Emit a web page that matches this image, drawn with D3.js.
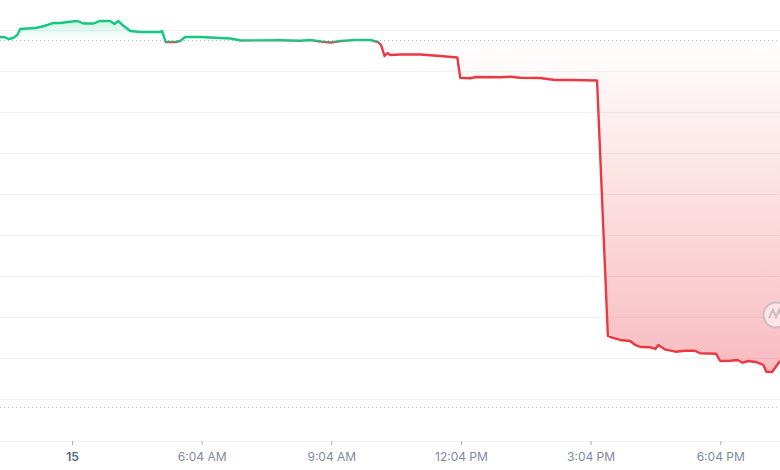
<!DOCTYPE html>
<html>
<head>
<meta charset="utf-8">
<script src="https://cdn.jsdelivr.net/npm/d3@7"></script>
<style>
  html, body { margin: 0; padding: 0; background: #fff; }
  svg { display: block; font-family: Inter, "Noto Sans", sans-serif; }
</style>
</head>
<body>
<div id="chart"></div>
<script>
// price series (time of day, price)
var times = ["01:24","01:29","01:36","01:42","01:48","01:52","02:02","02:13","02:20","02:30",
  "02:38","02:48","02:58","03:11","03:20","03:34","03:43","03:57","04:03","04:08",
  "04:14","04:25","04:39","05:07","05:09","05:14","05:27","05:34","05:41","06:02",
  "06:30","06:44","06:51","06:58","07:53","08:21","08:35","08:49","09:03","09:17",
  "09:37","09:58","10:09","10:13","10:18","10:22","10:26","10:40","11:08","11:35",
  "11:59","12:03","12:17","12:25","12:59","13:13","13:26","13:54","14:04","14:15",
  "14:36","15:13","15:28","15:34","15:45","15:59","16:06","16:13","16:27","16:34",
  "16:38","16:48","17:02","17:15","17:29","17:36","17:58","18:04","18:18","18:28",
  "18:35","18:43","18:55","19:04","19:08","19:16","19:22","19:27"];
var prices = [0.99810,0.99818,0.99769,0.99793,0.99866,1.00012,1.00025,1.00037,1.00061,1.00110,
  1.00158,1.00158,1.00183,1.00207,1.00146,1.00146,1.00207,1.00207,1.00134,1.00207,
  1.00110,0.99964,0.99939,0.99939,0.99964,0.99696,0.99696,0.99720,0.99818,0.99818,
  0.99793,0.99781,0.99757,0.99733,0.99737,0.99728,0.99745,0.99708,0.99684,0.99720,
  0.99745,0.99745,0.99696,0.99623,0.99355,0.99428,0.99380,0.99392,0.99392,0.99355,
  0.99319,0.98827,0.98813,0.98844,0.98837,0.98852,0.98827,0.98820,0.98796,0.98771,
  0.98771,0.98759,0.92543,0.92501,0.92446,0.92421,0.92324,0.92275,0.92268,0.92227,
  0.92324,0.92210,0.92161,0.92185,0.92185,0.92122,0.92112,0.91934,0.91942,0.91959,
  0.91893,0.91934,0.91903,0.91837,0.91674,0.91668,0.91814,0.91936];

var openPrice = 0.99745;   // dotted reference line
var floorPrice = 0.90815;  // lower dotted line
var gridValues = [0.91,0.92,0.93,0.94,0.95,0.96,0.97,0.98,0.99,1.00];
var tickTimes = ["03:04","06:04","09:04","12:04","15:04","18:04"];
var tickLabels = ["15","6:04 AM","9:04 AM","12:04 PM","3:04 PM","6:04 PM"];

var W = 780, H = 470;
var green = "#16c784", red = "#ea3943";

var parseTime = d3.timeParse("%H:%M");
var data = times.map(function (t, i) { return { t: parseTime(t), p: prices[i] }; });

var x = d3.scaleTime()
    .domain([parseTime("01:24"), parseTime("19:27")])
    .range([0, W]);
var y = d3.scaleLinear()
    .domain([0.91, 1.00])
    .range([399.4, 29.5]);

var svg = d3.select("#chart").append("svg")
    .attr("width", W)
    .attr("height", H);

var defs = svg.append("defs");
var yb = y(openPrice);

var fillGrad = defs.append("linearGradient")
    .attr("id", "fillGrad")
    .attr("gradientUnits", "userSpaceOnUse")
    .attr("x1", 0).attr("x2", 0).attr("y1", 0).attr("y2", H);
[[18, green, 0.24], [yb, green, 0], [yb, red, 0], [372, red, 0.34]].forEach(function (s) {
    fillGrad.append("stop")
        .attr("offset", s[0] / H)
        .attr("stop-color", s[1])
        .attr("stop-opacity", s[2]);
});

var lineGrad = defs.append("linearGradient")
    .attr("id", "lineGrad")
    .attr("gradientUnits", "userSpaceOnUse")
    .attr("x1", 0).attr("x2", 0).attr("y1", 0).attr("y2", H);
[[yb + 0.5, green], [yb + 3.5, red]].forEach(function (s) {
    lineGrad.append("stop").attr("offset", s[0] / H).attr("stop-color", s[1]);
});

// grid
svg.append("g").selectAll("line")
    .data(gridValues)
    .enter().append("line")
    .attr("x1", 0).attr("x2", W)
    .attr("y1", d => Math.round(y(d)) + 0.5)
    .attr("y2", d => Math.round(y(d)) + 0.5)
    .attr("stroke", "#eff2f5")
    .attr("stroke-width", 1);

// area between price and open
svg.append("path")
    .datum(data)
    .attr("fill", "url(#fillGrad)")
    .attr("d", d3.area()
        .x(d => x(d.t))
        .y0(yb)
        .y1(d => y(d.p)));

// dotted reference lines
svg.append("g").selectAll("line")
    .data([openPrice, floorPrice])
    .enter().append("line")
    .attr("x1", 0).attr("x2", W)
    .attr("y1", d => Math.round(y(d)) + 0.5)
    .attr("y2", d => Math.round(y(d)) + 0.5)
    .attr("stroke", "#b8bec8")
    .attr("stroke-width", 1)
    .attr("stroke-dasharray", "1,3");

// price line
svg.append("path")
    .datum(data)
    .attr("fill", "none")
    .attr("stroke", "url(#lineGrad)")
    .attr("stroke-width", 2.4)
    .attr("stroke-linejoin", "round")
    .attr("d", d3.line()
        .x(d => x(d.t))
        .y(d => y(d.p)));

// watermark logo at right edge
var logo = svg.append("g").attr("transform", "translate(776,315)").attr("opacity", 0.55);
logo.append("circle").attr("r", 12.5).attr("fill", "#fff").attr("stroke", "#aab1bd").attr("stroke-width", 2);
logo.append("path")
    .attr("d", "M-7,3 L-3,-5 L0,2 L3,-5 L6,3")
    .attr("fill", "none").attr("stroke", "#aab1bd").attr("stroke-width", 2);

// x axis
svg.append("line")
    .attr("x1", 0).attr("x2", W)
    .attr("y1", 441.5).attr("y2", 441.5)
    .attr("stroke", "#eff2f5");

var xAxis = svg.append("g")
    .attr("transform", "translate(0,441)")
    .call(d3.axisBottom(x)
        .tickValues(tickTimes.map(parseTime))
        .tickSize(4)
        .tickPadding(7)
        .tickFormat((d, i) => tickLabels[i]));
xAxis.select(".domain").remove();
xAxis.selectAll(".tick line").attr("stroke", "#a6b0c3");
xAxis.selectAll(".tick text")
    .attr("fill", "#808a9d")
    .style("font-size", "12px")
    .style("font-family", "Inter, sans-serif");
xAxis.selectAll(".tick text").filter((d, i) => i === 0)
    .attr("fill", "#58667e")
    .style("font-weight", "600");
</script>
</body>
</html>
